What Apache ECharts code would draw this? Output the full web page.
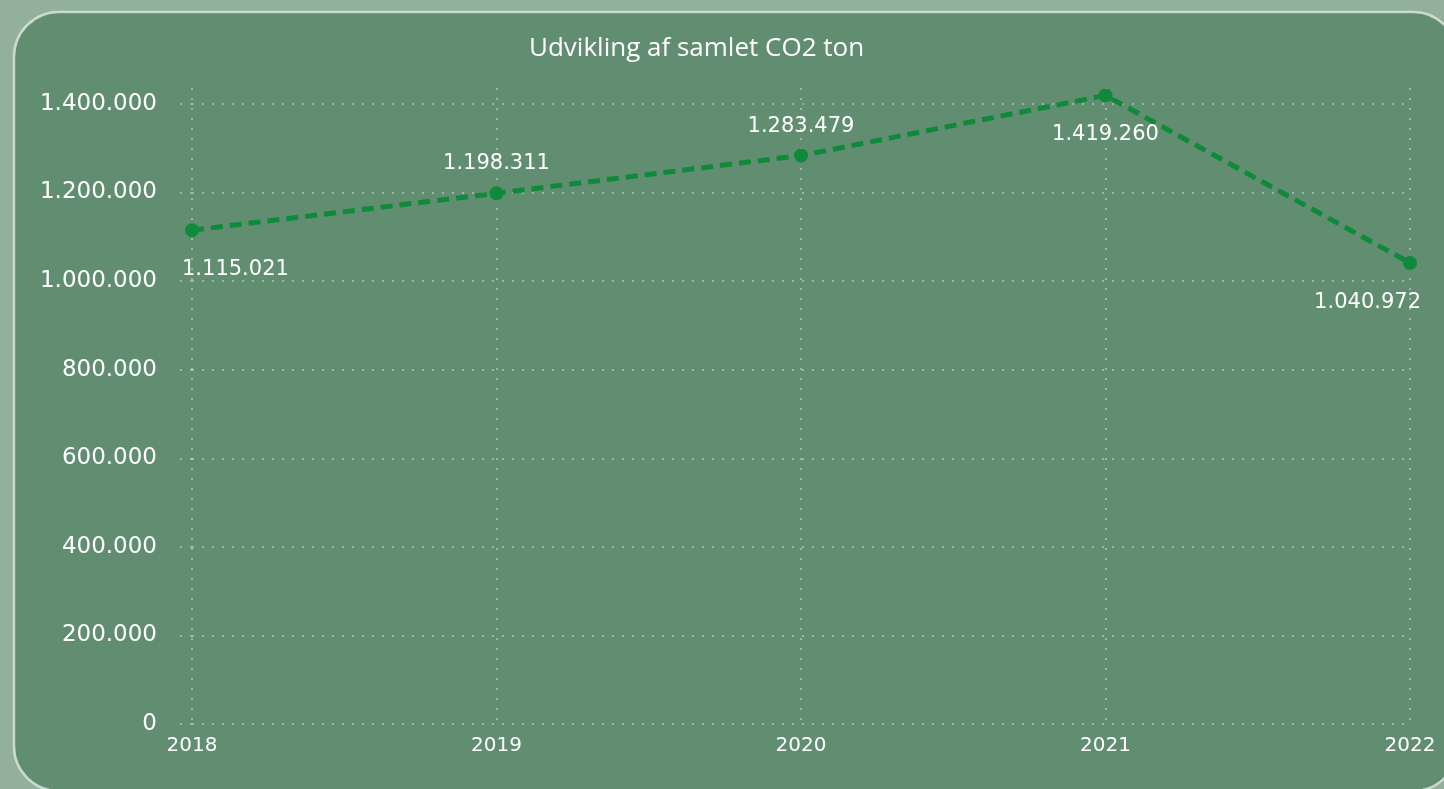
<!DOCTYPE html>
<html>
<head>
<meta charset="utf-8">
<script src="https://cdn.jsdelivr.net/npm/echarts@6/dist/echarts.min.js"></script>
<style>
html,body{margin:0;padding:0;background:#93b09c;}
#chart{width:1444px;height:789px;}
</style>
</head>
<body>
<div id="chart"></div>
<script>
const years = ['2018', '2019', '2020', '2021', '2022'];
const co2Tons = [1115021, 1198311, 1283479, 1419260, 1040972];
const yTicks = [0, 200000, 400000, 600000, 800000, 1000000, 1200000, 1400000];
const titleText = 'Udvikling af samlet CO2 ton';

const fmt = v => Math.round(v).toString().replace(/\B(?=(\d{3})+(?!\d))/g, '.');
const TFONT = "'Open Sans', 'DejaVu Sans', sans-serif";
const NFONT = "'DejaVu Sans', sans-serif";
const gridColor = 'rgba(235,240,235,0.55)';

// label placement per point (above/below and edge alignment)
function labelFor(i) {
  const above = [false, true, true, false, false][i];
  const lab = {
    show: true,
    position: above ? 'top' : 'bottom',
    distance: above ? 12 : 22
  };
  if (i === 0) { lab.align = 'left'; lab.offset = [-10, 0]; }
  if (i === years.length - 1) { lab.align = 'right'; lab.offset = [11, 0]; }
  return lab;
}

const chart = echarts.init(document.getElementById('chart'));
const yMax = 1436000;
const splitColors = yTicks.map(() => gridColor).concat(['rgba(0,0,0,0)']);

chart.setOption({
  backgroundColor: '#93b09c',
  animation: false,
  graphic: [{
    type: 'rect',
    z: -10,
    shape: { x: 14, y: 12, width: 1444, height: 779, r: 45 },
    style: { fill: '#618d70', stroke: 'rgba(230,238,232,0.75)', lineWidth: 2.5 }
  }],
  title: {
    text: titleText,
    left: 524,
    top: 31,
    textStyle: { color: '#ffffff', fontFamily: TFONT, fontSize: 26, fontWeight: 'normal' }
  },
  grid: { left: 192, right: 34, top: 88, bottom: 65, containLabel: false },
  xAxis: {
    type: 'category',
    data: years,
    boundaryGap: false,
    axisLine: { show: false },
    axisTick: { show: false },
    axisLabel: { color: '#ffffff', fontFamily: NFONT, fontSize: 20, margin: 12 },
    splitLine: { show: true, lineStyle: { color: gridColor, type: [2, 8], width: 1.5 } }
  },
  yAxis: {
    type: 'value',
    min: 0,
    max: yMax,
    interval: 200000,
    axisLine: { show: false },
    axisTick: { show: true, length: 17, lineStyle: { color: gridColor, type: [2, 8], width: 1.5 } },
    axisLabel: {
      color: '#ffffff', fontFamily: NFONT, fontSize: 23, margin: 35,
      showMaxLabel: false,
      formatter: v => (yTicks.indexOf(v) >= 0 ? fmt(v) : '')
    },
    splitLine: { show: true, lineStyle: { color: splitColors, type: [2, 8], width: 1.5 } }
  },
  series: [{
    type: 'line',
    data: co2Tons.map((v, i) => ({ value: v, label: labelFor(i) })),
    clip: false,
    symbol: 'circle',
    symbolSize: 14,
    itemStyle: { color: '#0f8a3a' },
    lineStyle: { color: '#0f8a3a', width: 5, type: [12, 7] },
    label: {
      show: true,
      color: '#ffffff',
      fontFamily: NFONT,
      fontSize: 21,
      formatter: p => fmt(p.value)
    }
  }]
});
</script>
</body>
</html>
